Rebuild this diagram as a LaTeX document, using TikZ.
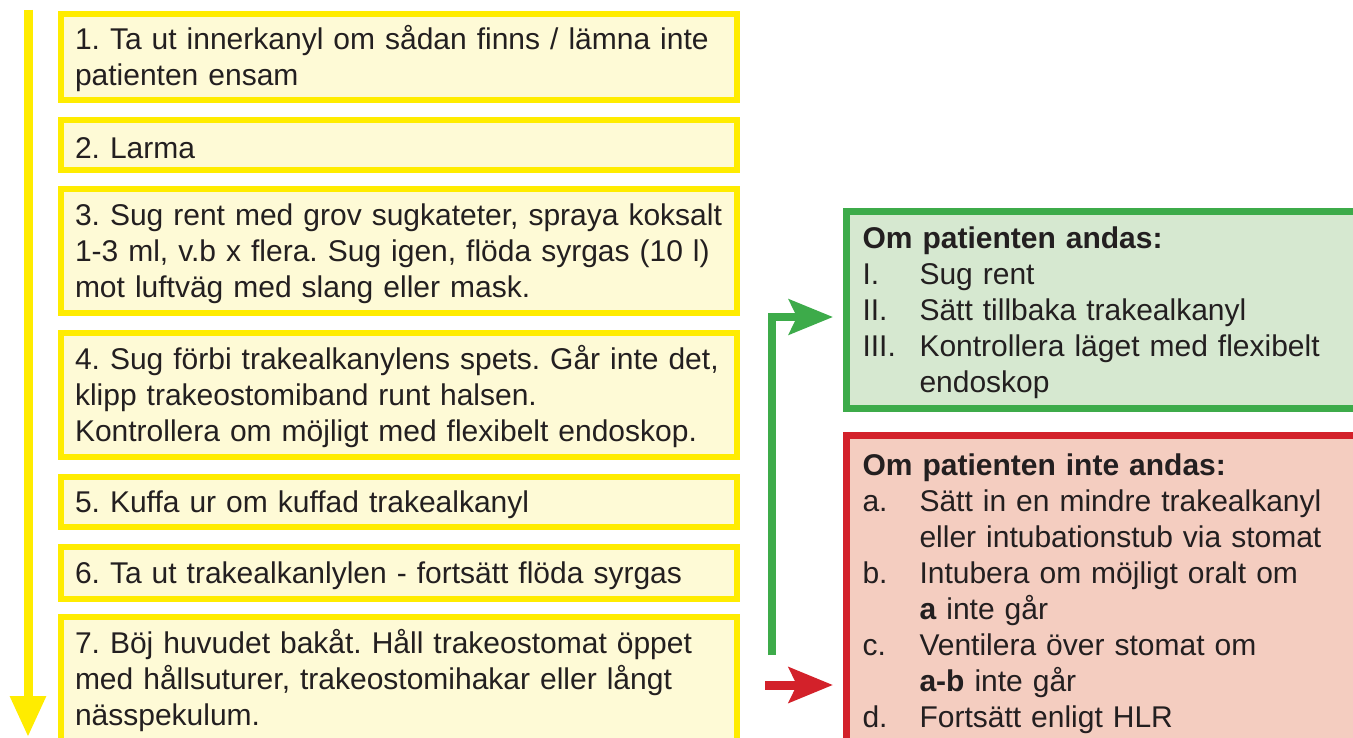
\documentclass[tikz,border=0pt]{standalone}
\usepackage{fontspec}
\setmainfont{Liberation Sans}
\usetikzlibrary{arrows.meta, positioning}

\definecolor{ink}{RGB}{35,31,32}
\definecolor{yfill}{RGB}{254,250,214}
\definecolor{yline}{RGB}{255,236,0}
\definecolor{gfill}{RGB}{214,232,208}
\definecolor{gline}{RGB}{61,171,74}
\definecolor{rfill}{RGB}{244,205,192}
\definecolor{rline}{RGB}{211,33,42}

\newcommand{\itm}[1]{\makebox[28.5pt][l]{#1}}
\newcommand{\boxfont}{\fontsize{15}{18}\selectfont\frenchspacing\hyphenpenalty=10000}

\begin{document}
\begin{tikzpicture}[x=0.5pt, y=-0.5pt]

\tikzstyle{stepbox} = [draw=yline, fill=yfill, line width=3pt, text width=324pt, inner xsep=7pt, inner ysep=0pt, align=left, text=ink, font=\boxfont, execute at begin node=\rule{0pt}{14pt}]
\tikzstyle{okbox} = [draw=gline, fill=gfill, line width=3.5pt, text width=240pt, inner xsep=8pt, inner ysep=0pt, align=left, text=ink, font=\boxfont, execute at begin node=\rule{0pt}{14pt}]
\tikzstyle{nobox} = [draw=rline, fill=rfill, line width=3.5pt, text width=240pt, inner xsep=8pt, inner ysep=0pt, align=left, text=ink, font=\boxfont, execute at begin node=\rule{0pt}{14pt}]
\tikzstyle{flow} = [yline, line width=4.5pt, -{Triangle[length=20.5pt,width=17pt]}]
\tikzstyle{okarrow} = [gline, line width=4pt, shorten >=5pt, -{Stealth[length=22pt,width=17.5pt,inset=4pt]}]
\tikzstyle{noarrow} = [rline, line width=4.5pt, shorten >=5pt, -{Stealth[length=22pt,width=17.5pt,inset=4pt]}]

\useasboundingbox (0,0) rectangle (1353,738);
\clip (0,0) rectangle (1353,738);
\fill[white] (0,0) rectangle (1353,738);

\node (s1) [stepbox, minimum height=43pt, anchor=north west] at (58,11) {1. Ta ut innerkanyl om sådan finns / lämna inte\\patienten ensam};

\node (s2) [stepbox, minimum height=25pt, below=7pt of s1] {2. Larma};

\node (s3) [stepbox, minimum height=62pt, below=6.5pt of s2] {3. Sug rent med grov sugkateter, spraya koksalt\\1-3 ml, v.b x flera. Sug igen, flöda syrgas (10 l)\\mot luftväg med slang eller mask.};

\node (s4) [stepbox, minimum height=62pt, below=7pt of s3] {4. Sug förbi trakealkanylens spets. Går inte det,\\klipp trakeostomiband runt halsen.\\Kontrollera om möjligt med flexibelt endoskop.};

\node (s5) [stepbox, minimum height=25pt, below=7pt of s4] {5. Kuffa ur om kuffad trakealkanyl};

\node (s6) [stepbox, minimum height=26pt, below=7pt of s5] {6. Ta ut trakealkanlylen - fortsätt flöda syrgas};

\node (s7) [stepbox, minimum height=62pt, below=6pt of s6] {7. Böj huvudet bakåt. Håll trakeostomat öppet\\med hållsuturer, trakeostomihakar eller långt\\nässpekulum.};

\node (ok) [okbox, minimum height=98.5pt, anchor=north west] at (843,208) {\textbf{Om patienten andas:}\\\itm{I.}Sug rent\\\itm{II.}Sätt tillbaka trakealkanyl\\\itm{III.}Kontrollera läget med flexibelt\\\itm{}endoskop};

\node (no) [nobox, minimum height=155pt, below=10pt of ok] {\textbf{Om patienten inte andas:}\\\itm{a.}Sätt in en mindre trakealkanyl\\\itm{}eller intubationstub via stomat\\\itm{b.}Intubera om möjligt oralt om\\\itm{}\textbf{a} inte går\\\itm{c.}Ventilera över stomat om\\\itm{}\textbf{a-b} inte går\\\itm{d.}Fortsätt enligt HLR};

\coordinate (flowtop) at (28,10);
\coordinate (flowend) at (28,737);
\coordinate (okfoot) at (772,655);
\coordinate (nofoot) at (765,685);

\draw [flow] (flowtop) -- (flowend);
\draw [okarrow] (okfoot) |- ([yshift=-3.5pt]ok.west);
\draw [noarrow] (nofoot) -- (nofoot -| no.west);

\end{tikzpicture}
\end{document}
